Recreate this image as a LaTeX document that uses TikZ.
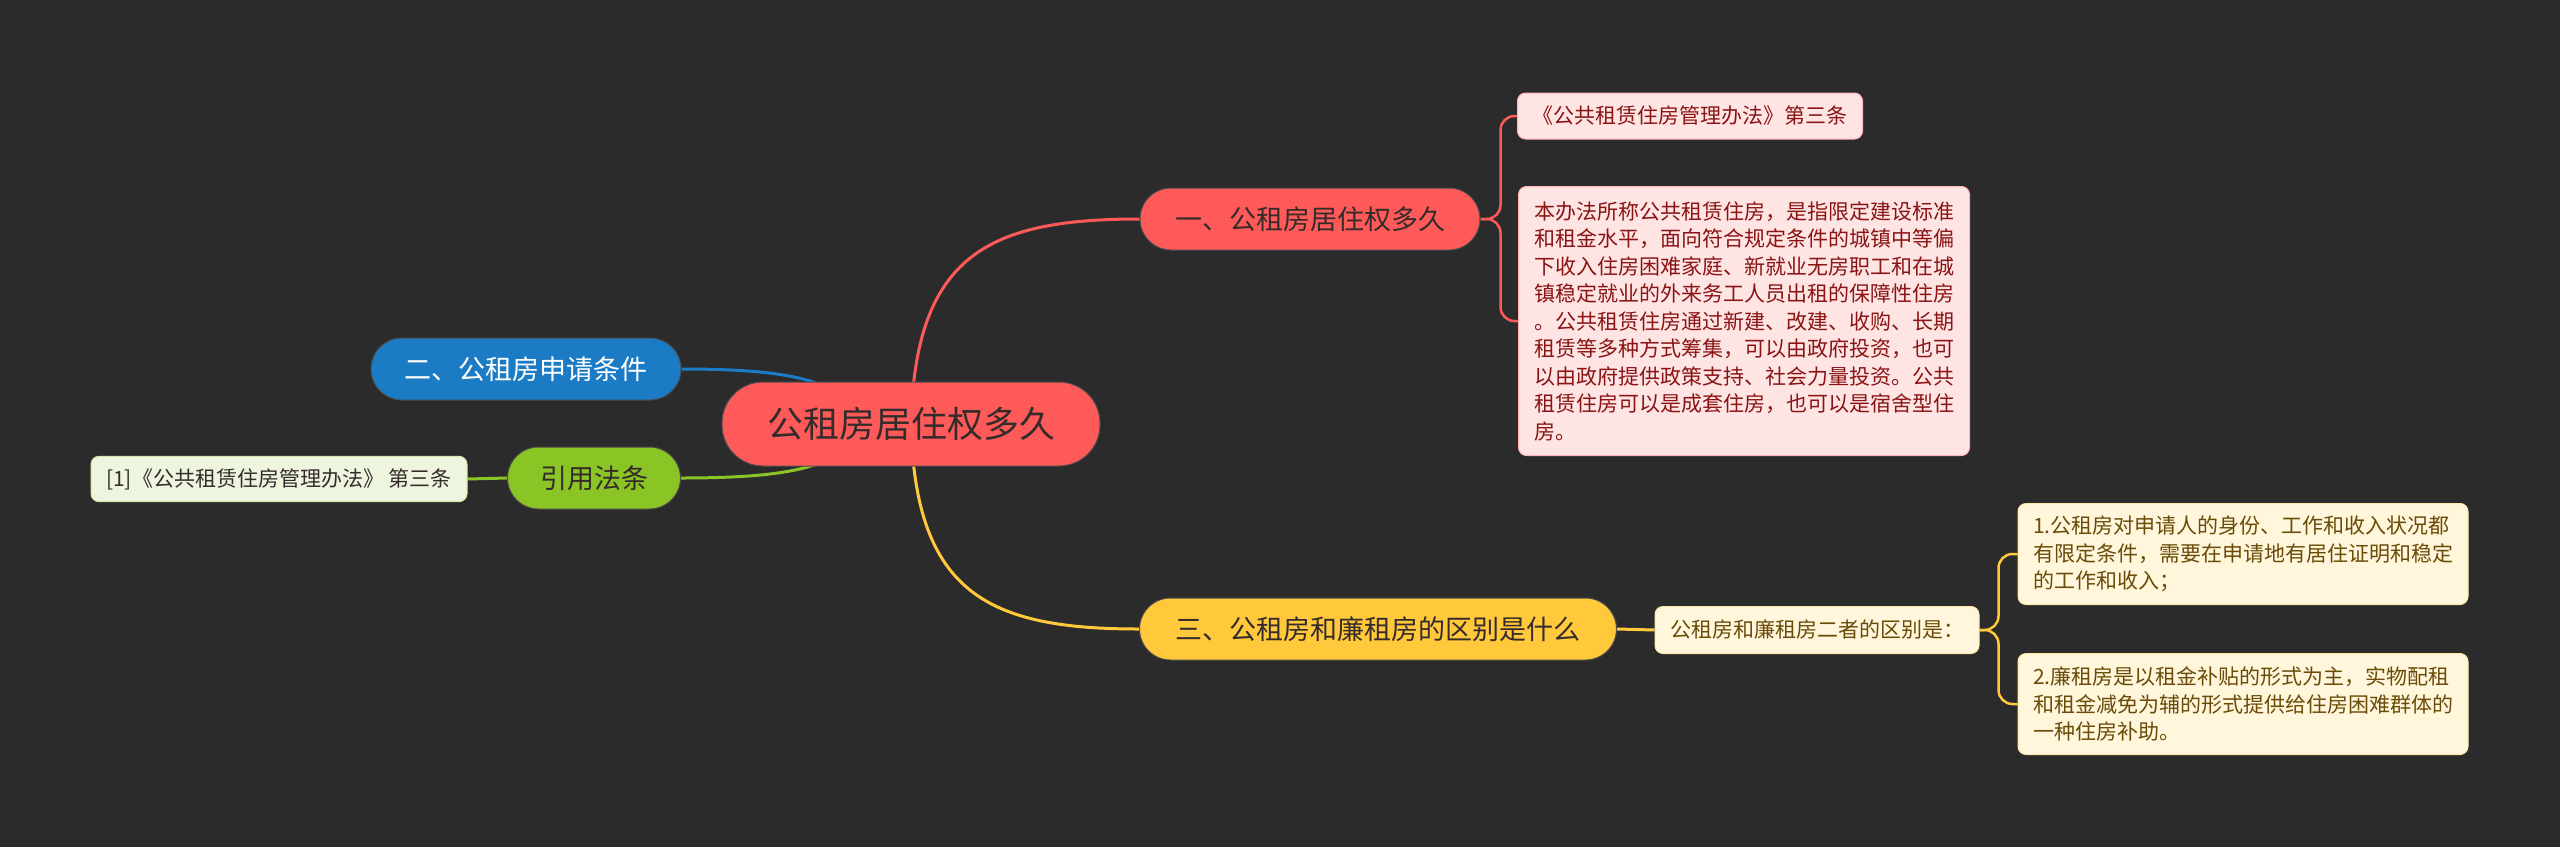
\documentclass[tikz,border=0pt]{standalone}
\usepackage{fontspec}
\setmainfont{Noto Sans CJK SC}
\usetikzlibrary{backgrounds}
\definecolor{bgdark}{HTML}{2B2B2B}
\definecolor{myred}{HTML}{FF5A5A}
\definecolor{myblue}{HTML}{1B7BC4}
\definecolor{mygreen}{HTML}{8BC425}
\definecolor{myyellow}{HTML}{FFC93B}
\definecolor{redleaf}{HTML}{FFE4E4}
\definecolor{redtext}{HTML}{8A1414}
\definecolor{greenleaf}{HTML}{EEF5DE}
\definecolor{yellowleaf}{HTML}{FFF6DB}
\definecolor{yellowtext}{HTML}{6A4B08}
\definecolor{darktext}{HTML}{352B2B}
\tikzset{
  hub/.style={draw=black!70, line width=1pt, fill=myred, text=darktext, rounded corners=41pt,
              minimum width=378pt, minimum height=84pt, font=\fontsize{36}{40}\selectfont},
  branch/.style={draw=black!70, line width=1pt, rounded corners=31pt, minimum height=62pt,
                 inner xsep=20pt, font=\fontsize{27}{32}\selectfont},
  leaf/.style={line width=1pt, rounded corners=8pt, align=left, inner xsep=15pt, inner ysep=12pt,
               font=\fontsize{21}{27.5}\selectfont},
  redleafbox/.style={leaf, fill=redleaf, draw=myred!45, text=redtext},
  greenleafbox/.style={leaf, fill=greenleaf, draw=mygreen!40, text=darktext},
  yellowleafbox/.style={leaf, fill=yellowleaf, draw=myyellow!45, text=yellowtext},
  link/.style={line width=3pt},
  bracket/.style={line width=2.5pt, rounded corners=14pt},
}
\begin{document}
\begin{tikzpicture}[x=1pt, y=-1pt]
  \node[hub] (hub) at (911,424) {公租房居住权多久};
  \node[branch, fill=myred, text=darktext, minimum width=340pt] (quan) at (1310,219) {一、公租房居住权多久};
  \node[branch, fill=myblue, text=white, minimum width=310pt] (shen) at (526,369) {二、公租房申请条件};
  \node[branch, fill=mygreen, text=darktext, minimum width=173pt] (yin) at (594,478) {引用法条};
  \node[branch, fill=myyellow, text=darktext, minimum width=477pt] (qubie) at (1378,629) {三、公租房和廉租房的区别是什么};
  \node[redleafbox, minimum width=343pt, minimum height=46pt] (fa) at (1690,116) {《公共租赁住房管理办法》第三条};
  \node[redleafbox, minimum width=451pt, minimum height=269pt] (ben) at (1744,321)
    {本办法所称公共租赁住房，是指限定建设标准\\和租金水平，面向符合规定条件的城镇中等偏\\下收入住房困难家庭、新就业无房职工和在城\\镇稳定就业的外来务工人员出租的保障性住房\\。公共租赁住房通过新建、改建、收购、长期\\租赁等多种方式筹集，可以由政府投资，也可\\以由政府提供政策支持、社会力量投资。公共\\租赁住房可以是成套住房，也可以是宿舍型住\\房。};
  \node[greenleafbox, minimum width=376pt, minimum height=45pt] (tiao) at (279,479) {[1]《公共租赁住房管理办法》 第三条};
  \node[yellowleafbox, minimum width=320pt, minimum height=47pt] (erzhe) at (1817,630) {公租房和廉租房二者的区别是：};
  \node[yellowleafbox, minimum width=449pt, minimum height=101pt] (gong) at (2243,554)
    {1.公租房对申请人的身份、工作和收入状况都\\有限定条件，需要在申请地有居住证明和稳定\\的工作和收入；};
  \node[yellowleafbox, minimum width=449pt, minimum height=101pt] (lian) at (2243,704)
    {2.廉租房是以租金补贴的形式为主，实物配租\\和租金减免为辅的形式提供给住房困难群体的\\一种住房补助。};
  \begin{pgfonlayer}{background}
    \fill[bgdark] (0,0) rectangle (2560,847);
    % main branches
    \draw[link, myred] (hub.center) .. controls +(4,-170) and +(-150,0) .. (quan.west);
    \draw[link, myyellow] (hub.center) .. controls +(4,170) and +(-150,0) .. (qubie.west);
    \draw[link, myblue] (shen.east) .. controls +(160,0) and +(-90,-30) .. (hub.center);
    \draw[link, mygreen] (yin.east) .. controls +(160,0) and +(-90,30) .. (hub.center);
    % leaves
    \draw[bracket, myred] (quan.east) -- ++(20,0) |- (fa.west);
    \draw[bracket, myred] (quan.east) -- ++(20,0) |- (ben.west);
    \draw[link, mygreen] (tiao.east) -- (yin.west);
    \draw[link, myyellow] (qubie.east) -- (erzhe.west);
    \draw[bracket, myyellow] (erzhe.east) -- ++(19,0) |- (gong.west);
    \draw[bracket, myyellow] (erzhe.east) -- ++(19,0) |- (lian.west);
  \end{pgfonlayer}
\end{tikzpicture}
\end{document}
